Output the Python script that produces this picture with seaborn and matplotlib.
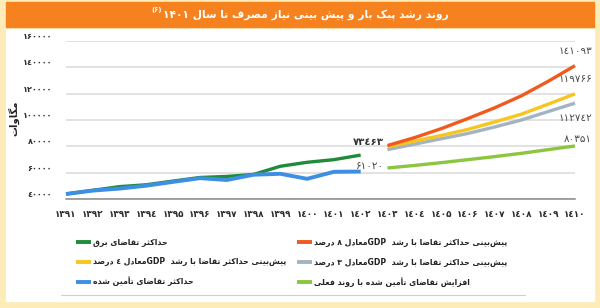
import matplotlib
matplotlib.use("Agg")
import re
import pandas as pd
import seaborn as sns
import matplotlib.pyplot as plt
from matplotlib import font_manager as fm
from matplotlib.lines import Line2D
from matplotlib.patches import Rectangle

# ---- data ----
hist_years = list(range(1391, 1403))
max_demand = [44000, 46800, 49600, 51000, 53800, 56500, 57300, 58800, 65000, 68000, 70000, 73463]
supplied = [44000, 46600, 48100, 50300, 53200, 56000, 54600, 58600, 59300, 55500, 60800, 61020]

fc_years = list(range(1403, 1411))
gdp8 = [80700, 86600, 93400, 101100, 109200, 118300, 129300, 141093]
gdp4 = [79700, 84000, 88300, 92900, 98500, 104400, 112000, 119766]
gdp3 = [77600, 81700, 85800, 89800, 94700, 100000, 106400, 112742]
trend = [63700, 65600, 67700, 70000, 72300, 74800, 77600, 80351]

y_ticks = [40000, 60000, 80000, 100000, 120000, 140000, 160000]

title = "روند رشد پیک بار و پیش بینی نیاز مصرف تا سال ۱۴۰۱"
y_label = "مگاوات"
lbl_green = "حداکثر تقاضای برق"
lbl_orange = "پیش\u200cبینی حداکثر تقاضا با رشد  GDPمعادل ۸ درصد"
lbl_yellow = "پیش\u200cبینی حداکثر تقاضا با رشد  GDPمعادل ٤ درصد"
lbl_grey = "پیش\u200cبینی حداکثر تقاضا با رشد  GDPمعادل ۳ درصد"
lbl_blue = "حداکثر تقاضای تأمین شده"
lbl_lgreen = "افزایش تقاضای تأمین شده با روند فعلی"

# ---- minimal persian shaping + rtl ordering (matplotlib does no shaping) ----
RIGHT_JOIN = {'ا': 0xFE8D, 'آ': 0xFE81, 'أ': 0xFE83, 'د': 0xFEA9, 'ذ': 0xFEAB,
              'ر': 0xFEAD, 'ز': 0xFEAF, 'ژ': 0xFB8A, 'و': 0xFEED}
DUAL_JOIN = {'ب': 0xFE8F, 'پ': 0xFB56, 'ت': 0xFE95, 'ث': 0xFE99, 'ج': 0xFE9D,
             'چ': 0xFB7A, 'ح': 0xFEA1, 'خ': 0xFEA5, 'س': 0xFEB1, 'ش': 0xFEB5,
             'ص': 0xFEB9, 'ض': 0xFEBD, 'ط': 0xFEC1, 'ظ': 0xFEC5, 'ع': 0xFEC9,
             'غ': 0xFECD, 'ف': 0xFED1, 'ق': 0xFED5, 'ک': 0xFB8E, 'گ': 0xFB92,
             'ل': 0xFEDD, 'م': 0xFEE1, 'ن': 0xFEE5, 'ه': 0xFEE9, 'ی': 0xFBFC}


def shape(s):
    out = []
    for i, c in enumerate(s):
        if c not in RIGHT_JOIN and c not in DUAL_JOIN:
            if c != '\u200c':
                out.append(c)
            continue
        prev = s[i - 1] if i > 0 else ''
        nxt = s[i + 1] if i + 1 < len(s) else ''
        j_prev = prev in DUAL_JOIN
        j_next = c in DUAL_JOIN and (nxt in DUAL_JOIN or nxt in RIGHT_JOIN)
        base = DUAL_JOIN.get(c, RIGHT_JOIN.get(c))
        form = 3 if (j_prev and j_next) else 1 if j_prev else 2 if j_next else 0
        out.append(chr(base + form))
    return ''.join(out)


def fa(s):
    v = shape(s)[::-1]
    v = v.translate(str.maketrans('()', ')('))
    return re.sub(r'[A-Za-z0-9\u06F0-\u06F9\u0660-\u0669]+', lambda m: m.group(0)[::-1], v)


def fa_num(n):
    digits = '۰۱۲۳٤۵۶۷۸۹'
    return ''.join(digits[int(d)] for d in str(n))


def bold(size):
    return fm.FontProperties(family='DejaVu Sans', weight='bold', size=size)


# ---- frame ----
sns.set_theme(style="white")
plt.rcParams['font.family'] = ['DejaVu Sans']

W, H = 600, 308
fig = plt.figure(figsize=(W / 100, H / 100), dpi=100, facecolor='#FDECB8')


def fx(px):
    return px / W


def fy(py):
    return 1 - py / H


fig.patches.append(Rectangle((fx(6), fy(301)), fx(588), (301 - 29) / H,
                             transform=fig.transFigure, color='white', zorder=-2))
fig.patches.append(Rectangle((fx(6), fy(27)), fx(588), 25 / H,
                             transform=fig.transFigure, color='#F5821F', zorder=-2))
fig.text(fx(306), fy(15), fa(title), color='white', fontproperties=bold(7.7),
         ha='center', va='center')
fig.text(fx(162), fy(10), fa("(۶)"), color='white', fontproperties=bold(5),
         ha='right', va='center')

ax = fig.add_axes([fx(66), fy(199.3), fx(509), 158.6 / H])
ax.set_facecolor('none')
ax.set_zorder(1)

hist = pd.DataFrame({'year': hist_years, 'max_demand': max_demand, 'supplied': supplied})
fc = pd.DataFrame({'year': fc_years, 'gdp8': gdp8, 'gdp4': gdp4, 'gdp3': gdp3, 'trend': trend})

c_green, c_blue = '#1F8B3B', '#3D8FE3'
c_orange, c_yellow, c_grey, c_lgreen = '#F05A1F', '#F7C51E', '#A3B3C0', '#8CC540'

sns.lineplot(data=hist, x='year', y='max_demand', color=c_green, lw=2.4, ax=ax,
             clip_on=False, solid_capstyle='butt')
sns.lineplot(data=hist, x='year', y='supplied', color=c_blue, lw=2.8, ax=ax,
             clip_on=False, solid_capstyle='butt')
sns.lineplot(data=fc, x='year', y='trend', color=c_lgreen, lw=2.4, ax=ax,
             clip_on=False, solid_capstyle='butt')
sns.lineplot(data=fc, x='year', y='gdp3', color=c_grey, lw=2.4, ax=ax,
             clip_on=False, solid_capstyle='butt')
sns.lineplot(data=fc, x='year', y='gdp4', color=c_yellow, lw=2.4, ax=ax,
             clip_on=False, solid_capstyle='butt')
sns.lineplot(data=fc, x='year', y='gdp8', color=c_orange, lw=2.4, ax=ax,
             clip_on=False, solid_capstyle='butt')

ax.set_xlim(1391, 1410)
ax.set_ylim(40000, 160000)
ax.set_xticks(list(range(1391, 1411)))
ax.set_xticklabels([fa_num(y) for y in range(1391, 1411)])
ax.set_yticks(y_ticks)
ax.set_yticklabels([fa_num(v) for v in y_ticks])
ax.tick_params(axis='both', length=0, labelcolor='#2b2b2b')
ax.tick_params(axis='x', pad=8)
ax.tick_params(axis='y', pad=10)
for t in ax.get_xticklabels():
    t.set_fontproperties(bold(6.4))
for t in ax.get_yticklabels():
    t.set_fontproperties(bold(5.9))
    t.set_verticalalignment('bottom')
ax.set_xlabel('')
ax.set_ylabel('')
ax.yaxis.grid(True, color='#DADADA', lw=1.1)
ax.set_axisbelow(True)
for side in ['top', 'right', 'left']:
    ax.spines[side].set_visible(False)
ax.spines['bottom'].set_color('#8A8A8A')
ax.spines['bottom'].set_linewidth(1.1)

fig.text(fx(14), fy(118), fa(y_label), rotation=90, fontproperties=bold(7.2),
         color='#222222', ha='center', va='center')

# value labels
ax.annotate(fa_num(max_demand[-1]), xy=(hist_years[-1], max_demand[-1]), xytext=(23, 13),
            textcoords='offset pixels', ha='right', va='center',
            fontproperties=bold(7.3), color='#333333')
ax.annotate(fa_num(supplied[-1]), xy=(hist_years[-1], supplied[-1]), xytext=(23, 6),
            textcoords='offset pixels', ha='right', va='center', fontsize=7.5,
            color='#444444')
for vals, dy in [(gdp8, 15), (gdp4, 15), (gdp3, -15), (trend, 7)]:
    ax.annotate(fa_num(vals[-1]), xy=(fc_years[-1], vals[-1]), xytext=(17, dy),
                textcoords='offset pixels', ha='right', va='center', fontsize=7.5,
                color='#4a4a4a')


# legend, two columns placed like the reference
def handle(c):
    return Line2D([], [], color=c, lw=2.8, solid_capstyle='butt')


leg_size = 5.6
leg_kw = dict(loc='upper left', frameon=False, handlelength=15 / (leg_size * 1.389),
              handletextpad=0.25, labelspacing=10.3 / (leg_size * 1.389),
              borderpad=0, borderaxespad=0,
              labelcolor='#222222', prop=bold(leg_size))
fig.legend([handle(c_green), handle(c_yellow), handle(c_blue)],
           [fa(lbl_green), fa(lbl_yellow), fa(lbl_blue)],
           bbox_to_anchor=(fx(76), fy(238)), **leg_kw)
fig.legend([handle(c_orange), handle(c_grey), handle(c_lgreen)],
           [fa(lbl_orange), fa(lbl_grey), fa(lbl_lgreen)],
           bbox_to_anchor=(fx(297), fy(238)), **leg_kw)

fig.lines.append(Line2D([fx(61), fx(525)], [fy(295), fy(295)], transform=fig.transFigure,
                        color='#CFCFCF', lw=0.8))

fig.savefig('out.png', dpi=100, facecolor=fig.get_facecolor())
